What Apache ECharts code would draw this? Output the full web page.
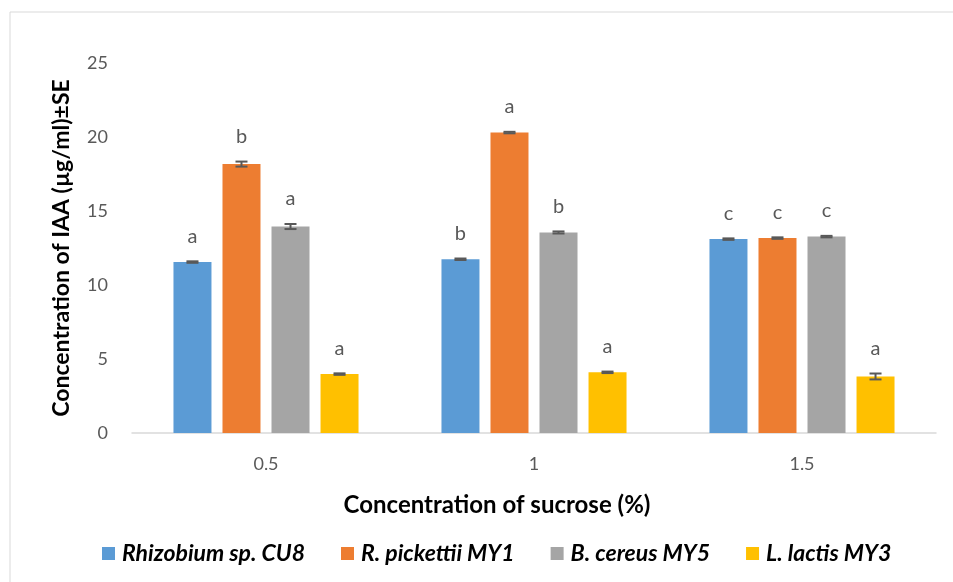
<!DOCTYPE html>
<html>
<head>
<meta charset="utf-8">
<script src="https://cdn.jsdelivr.net/npm/echarts@6/dist/echarts.min.js"></script>
<style>html,body{margin:0;padding:0;background:#fff;}#c{width:953px;height:582px;}</style>
</head>
<body>
<div id="c"></div>
<script>
var categories = ['0.5', '1', '1.5'];
var seriesNames = ['Rhizobium sp. CU8', 'R. pickettii MY1', 'B. cereus MY5', 'L. lactis MY3'];
var rhizobium = [11.55, 11.74, 13.10];
var pickettii = [18.17, 20.30, 13.17];
var cereus = [13.95, 13.55, 13.27];
var lactis = [3.98, 4.10, 3.82];
var rhizobiumSE = [0.05, 0.05, 0.05];
var pickettiiSE = [0.17, 0.05, 0.05];
var cereusSE = [0.17, 0.07, 0.05];
var lactisSE = [0.05, 0.05, 0.20];
var rhizobiumLetters = ['a', 'b', 'c'];
var pickettiiLetters = ['b', 'a', 'c'];
var cereusLetters = ['a', 'b', 'c'];
var lactisLetters = ['a', 'a', 'a'];
var yTicks = [0, 5, 10, 15, 20, 25];

var colors = ['#5B9BD5', '#ED7D31', '#A5A5A5', '#FFC000'];
var values = [rhizobium, pickettii, cereus, lactis];
var errors = [rhizobiumSE, pickettiiSE, cereusSE, lactisSE];
var letters = [rhizobiumLetters, pickettiiLetters, cereusLetters, lactisLetters];

var FONT = 'Lato';
var BAR_W = 38, GAP_RATIO = 0.29;
var step = BAR_W * (1 + GAP_RATIO);

var series = [];
values.forEach(function (vals, si) {
  series.push({
    name: seriesNames[si],
    type: 'bar',
    barWidth: BAR_W,
    barGap: (GAP_RATIO * 100) + '%',
    itemStyle: { color: colors[si] },
    data: vals,
    z: 2
  });
});
values.forEach(function (vals, si) {
  var data = vals.map(function (v, i) { return [i, v, errors[si][i], letters[si][i]]; });
  series.push({
    type: 'custom',
    name: seriesNames[si] + ' SE',
    z: 5,
    silent: true,
    data: data,
    renderItem: function (params, api) {
      var idx = api.value(0), v = api.value(1), e = api.value(2);
      var lt = data[params.dataIndex][3];
      var c = api.coord([idx, v]);
      var off = (si - 1.5) * step;
      var x = c[0] + off;
      var hi = api.coord([idx, v + e])[1];
      var lo = api.coord([idx, v - e])[1];
      var cap = 6;
      var st = { stroke: '#595959', lineWidth: 2 };
      return {
        type: 'group',
        children: [
          { type: 'line', shape: { x1: x, y1: hi, x2: x, y2: lo }, style: st },
          { type: 'line', shape: { x1: x - cap, y1: hi, x2: x + cap, y2: hi }, style: st },
          { type: 'line', shape: { x1: x - cap, y1: lo, x2: x + cap, y2: lo }, style: st },
          { type: 'text', style: { text: lt, x: x, y: hi - 15, align: 'center', verticalAlign: 'bottom',
              fill: '#595959', font: '20px ' + FONT } }
        ]
      };
    }
  });
});

var chart = echarts.init(document.getElementById('c'));
chart.setOption({
  animation: false,
  textStyle: { fontFamily: FONT },
  grid: { left: 132, right: 17, top: 63, bottom: 149 },
  graphic: [{
    type: 'rect', shape: { x: 10, y: 12, width: 990, height: 620 },
    style: { fill: 'none', stroke: '#d9d9d9', lineWidth: 1 }, silent: true, z: -1
  }],
  legend: {
    data: seriesNames,
    left: 97, top: 537,
    itemWidth: 13, itemHeight: 13, itemGap: 36,
    icon: 'rect',
    textStyle: { fontFamily: FONT, fontSize: 23, fontWeight: 'bold', fontStyle: 'italic', color: '#000', padding: [0, 0, 0, 2] }
  },
  xAxis: {
    type: 'category',
    data: categories,
    name: 'Concentration of sucrose (%)',
    nameLocation: 'middle',
    nameGap: 60,
    nameTextStyle: { fontFamily: FONT, fontSize: 24, fontWeight: 'bold', color: '#000', padding: [0, 74, 0, 0] },
    axisLine: { lineStyle: { color: '#d9d9d9', width: 1.5 } },
    axisTick: { show: false },
    axisLabel: { margin: 22, fontSize: 18, color: '#595959', fontFamily: FONT }
  },
  yAxis: {
    type: 'value',
    min: 0, max: 25, interval: 5,
    name: 'Concentration of IAA (µg/ml)±SE',
    nameLocation: 'middle',
    nameGap: 59,
    nameTextStyle: { fontFamily: FONT, fontSize: 23, fontWeight: 'bold', color: '#000' },
    axisLine: { show: false },
    axisTick: { show: false },
    splitLine: { show: false },
    axisLabel: { margin: 24, fontSize: 18, color: '#595959', fontFamily: FONT,
      formatter: function (v) { return yTicks.indexOf(v) >= 0 ? String(v) : ''; } }
  },
  series: series
});
</script>
</body>
</html>
